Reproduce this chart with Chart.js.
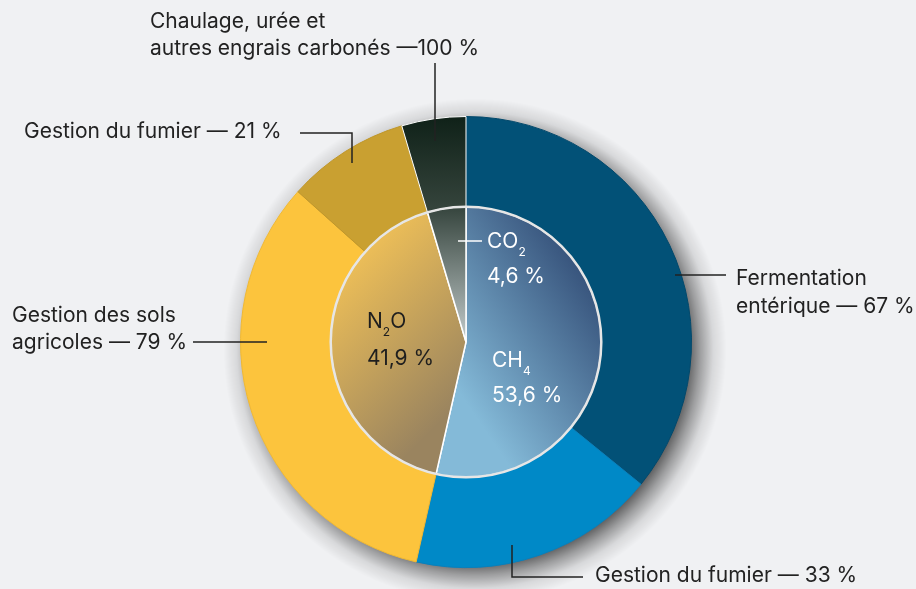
<!DOCTYPE html>
<html>
<head>
<meta charset="utf-8">
<script src="https://cdn.jsdelivr.net/npm/chart.js@4"></script>
<style>
  html, body { margin: 0; padding: 0; background: #f0f1f3; }
  #wrap { position: relative; width: 916px; height: 589px; }
</style>
</head>
<body>
<div id="wrap"><canvas id="chart" width="916" height="589"></canvas></div>
<script>
// Inner pie: gas shares (%)
const gasLabels = ["CH4", "N2O", "CO2"];
const gasValues = [53.6, 41.9, 4.6];

// Outer ring: sources, share of total (= gas share x share of gas)
const sourceLabels = ["Fermentation entérique", "Gestion du fumier (CH4)", "Gestion des sols agricoles", "Gestion du fumier (N2O)", "Chaulage, urée et autres engrais carbonés"];
const sourceShares = [67, 33, 79, 21, 100];
const sourceGas = [0, 0, 1, 1, 2];
const sourceValues = sourceShares.map((s, i) => +(gasValues[sourceGas[i]] * s / 100).toFixed(1));

const outerColors = ["#025177", "#0089c7", "#fcc43d", "#c9a031", "#13241b"];
const outerBorders = ["#02486b", "#0a7fba", "#f0b832", "#bf962a", "#ffffff"];

// gradients for the inner pie, based on chart geometry
function innerFill(ctx) {
  const chart = ctx.chart;
  const a = chart.chartArea;
  if (!a) return "#888";
  const cx = (a.left + a.right) / 2, cy = (a.top + a.bottom) / 2;
  const r = Math.min(a.right - a.left, a.bottom - a.top) / 2 * 3 / 5;
  const c = chart.ctx;
  let g;
  if (ctx.dataIndex === 0) {
    g = c.createLinearGradient(cx - 0.1 * r, cy + 0.3 * r, cx + r, cy - 0.45 * r);
    g.addColorStop(0, "#84bad8");
    g.addColorStop(1, "#334e77");
  } else if (ctx.dataIndex === 1) {
    g = c.createLinearGradient(cx - 0.9 * r, cy - 0.5 * r, cx, cy + 0.4 * r);
    g.addColorStop(0, "#ebbd58");
    g.addColorStop(1, "#9a845f");
  } else {
    g = c.createLinearGradient(cx, cy - r, cx, cy);
    g.addColorStop(0, "#35443d");
    g.addColorStop(1, "#c3cbcb");
  }
  return g;
}

function outerFill(ctx) {
  const i = ctx.dataIndex;
  const chart = ctx.chart;
  const a = chart.chartArea;
  if (i !== 4 || !a) return outerColors[i];
  const cy = (a.top + a.bottom) / 2;
  const R = Math.min(a.right - a.left, a.bottom - a.top) / 2;
  const g = chart.ctx.createLinearGradient(0, cy - R, 0, cy - R * 0.6);
  g.addColorStop(0, "#0f2118");
  g.addColorStop(1, "#34433b");
  return g;
}

// soft shadow behind the ring (radial gradient, offset to lower right)
const shadowPlugin = {
  id: "shadow",
  beforeDatasetsDraw(chart) {
    const arc = chart.getDatasetMeta(0).data[0];
    if (!arc) return;
    const c = chart.ctx;
    const R = arc.outerRadius;
    const sx = arc.x + 9, sy = arc.y + 8;
    const g = c.createRadialGradient(sx, sy, R - 12, sx, sy, R + 26);
    g.addColorStop(0, "rgba(0,0,0,0.6)");
    g.addColorStop(0.3, "rgba(0,0,0,0.35)");
    g.addColorStop(0.65, "rgba(0,0,0,0.1)");
    g.addColorStop(1, "rgba(0,0,0,0)");
    c.save();
    c.fillStyle = g;
    c.beginPath();
    c.arc(sx, sy, R + 26, 0, Math.PI * 2);
    c.fill();
    c.restore();
  }
};

// ring around the inner pie + texts and leader lines
const labelPlugin = {
  id: "labels",
  afterDatasetsDraw(chart) {
    const c = chart.ctx;
    const inner = chart.getDatasetMeta(1).data[0];
    c.save();
    c.strokeStyle = "#e6e6e6";
    c.lineWidth = 2.5;
    c.beginPath();
    c.arc(inner.x, inner.y, inner.outerRadius, 0, Math.PI * 2);
    c.stroke();

    const font = "21px Inter, 'Noto Sans', sans-serif";
    const sub = "12px Inter, 'Noto Sans', sans-serif";
    c.textBaseline = "alphabetic";
    c.textAlign = "left";

    const line = (pts, color) => {
      c.strokeStyle = color || "#222";
      c.lineWidth = 1.5;
      c.beginPath();
      c.moveTo(pts[0][0], pts[0][1]);
      for (let k = 1; k < pts.length; k++) c.lineTo(pts[k][0], pts[k][1]);
      c.stroke();
    };
    const text = (s, x, y, color) => {
      c.font = font;
      c.fillStyle = color || "#222";
      c.fillText(s, x, y);
    };
    const chem = (a, n, b, x, y, color) => {
      c.fillStyle = color;
      c.font = font;
      c.fillText(a, x, y);
      let w = c.measureText(a).width;
      c.font = sub;
      c.fillText(n, x + w, y + 8);
      w += c.measureText(n).width;
      c.font = font;
      if (b) c.fillText(b, x + w, y);
    };

    // outer labels
    text("Chaulage, urée et", 150, 28);
    text("autres engrais carbonés —100 %", 150, 55);
    line([[435, 63], [435, 141]]);

    text("Gestion du fumier — 21 %", 24, 138);
    line([[300, 133], [352, 133], [352, 163]]);

    text("Gestion des sols", 12, 322);
    text("agricoles — 79 %", 12, 349);
    line([[193, 342], [267, 342]]);

    text("Fermentation", 736, 285);
    text("entérique — 67 %", 736, 313);
    line([[675, 275], [726, 275]]);

    text("Gestion du fumier — 33 %", 595, 582);
    line([[512, 545], [512, 577], [583, 577]]);

    // inner labels
    line([[458, 241], [482, 241]], "#ffffff");
    chem("CO", "2", "", 487, 248, "#ffffff");
    text("4,6 %", 487, 283, "#ffffff");

    chem("N", "2", "O", 367, 328, "#1e1e1e");
    text("41,9 %", 367, 365, "#1e1e1e");

    chem("CH", "4", "", 492, 367, "#ffffff");
    text("53,6 %", 492, 402, "#ffffff");
    c.restore();
  }
};

new Chart(document.getElementById("chart"), {
  type: "doughnut",
  data: {
    labels: sourceLabels,
    datasets: [
      {
        label: "Sources",
        data: sourceValues,
        backgroundColor: outerFill,
        borderColor: outerBorders,
        borderWidth: 1,
        weight: 2
      },
      {
        label: "Gaz",
        data: gasValues,
        backgroundColor: innerFill,
        borderColor: "#ffffff",
        borderWidth: 1.5,
        weight: 3
      }
    ]
  },
  options: {
    responsive: false,
    animation: false,
    cutout: 0,
    layout: { padding: { left: 240, right: 224, top: 116, bottom: 21 } },
    plugins: {
      legend: { display: false },
      tooltip: { enabled: false }
    }
  },
  plugins: [shadowPlugin, labelPlugin]
});
</script>
</body>
</html>
